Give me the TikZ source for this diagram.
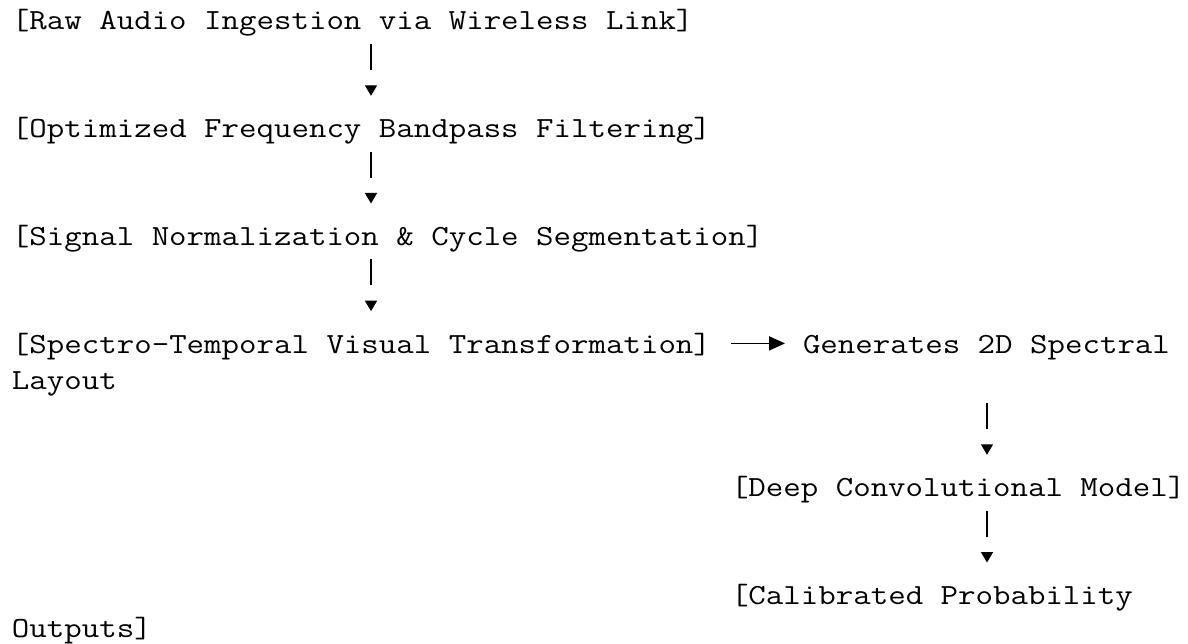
\documentclass[tikz,border=0pt]{standalone}
\usepackage{fontspec}
\setmonofont[FakeStretch=1.162]{Latin Modern Mono}
\usetikzlibrary{arrows.meta}
\begin{document}
\begin{tikzpicture}[x=1pt,y=-1pt,
  txt/.style={font=\ttfamily\fontsize{29.2pt}{35.9pt}\selectfont, inner sep=0pt, outer sep=0pt,
              text height=20pt, text depth=7pt, anchor=base west},
  vconn/.style={line width=1.4pt, dash pattern=on 26pt off 300pt,
                -{Triangle[width=12pt,length=10.5pt]}, shorten <=7pt, shorten >=21.9pt},
  hconn/.style={line width=1.8pt, -{Triangle[width=14pt,length=16pt]},
                shorten <=20pt, shorten >=18pt}]
\useasboundingbox (0,0) rectangle (1188,644);
\node[txt] (n1) at (12,30) {[Raw Audio Ingestion via Wireless Link]};
\node[txt] (n2) at (12,137.7) {[Optimized Frequency Bandpass Filtering]};
\node[txt] (n3) at (12,245.4) {[Signal Normalization \& Cycle Segmentation]};
\node[txt] (n4) at (12,353.1) {[Spectro-Temporal Visual Transformation]};
\node[txt] (g1) at (803,353.1) {Generates 2D Spectral};
\node[txt] (g2) at (12,389) {Layout};
\node[txt] (n5) at (731,496.7) {[Deep Convolutional Model]};
\node[txt] (n6) at (731,604.4) {[Calibrated Probability};
\node[txt] (n6b) at (12,637.5) {Outputs]};
\coordinate (colA) at (371,0);
\coordinate (colB) at (987,0);
\draw[vconn] (n1.south -| colA) -- (n2.north -| colA);
\draw[vconn] (n2.south -| colA) -- (n3.north -| colA);
\draw[vconn] (n3.south -| colA) -- (n4.north -| colA);
\draw[hconn] ([yshift=9.7pt]n4.base east) -- ([yshift=9.7pt]g1.base west);
\draw[vconn] (g2.south -| colB) -- (n5.north -| colB);
\draw[vconn] (n5.south -| colB) -- (n6.north -| colB);
\end{tikzpicture}
\end{document}
